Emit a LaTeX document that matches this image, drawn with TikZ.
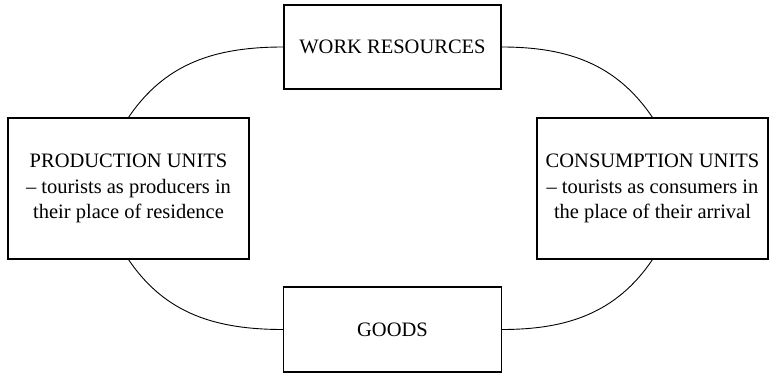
\documentclass[tikz,border=0pt]{standalone}
\usepackage{fontspec}
\setmainfont{Liberation Serif}
\usetikzlibrary{positioning}

\begin{document}
\begin{tikzpicture}[node distance=2cm,on grid,line width=0.9pt,
    unit/.style={draw,rectangle,align=center,inner sep=0pt,line width=1.1pt,
      font=\fontsize{20.5}{25.5}\selectfont}]
           \useasboundingbox (0pt,0pt) rectangle (769pt,-374pt);
           \node[unit,minimum width=217pt,minimum height=84pt] (work) at (392.5pt,-47pt) {WORK RESOURCES};
           \node[unit,minimum width=218pt,minimum height=85pt] (goods) [below=282.5pt of work] {GOODS};
           \node[unit,minimum width=241pt,minimum height=141pt] (prod) [below left=141.5pt and 264pt of work]
                {PRODUCTION UNITS\\ -- tourists as producers in\\ their place of residence};
           \node[unit,minimum width=231pt,minimum height=141pt] (cons) [below right=141.5pt and 260pt of work]
                {CONSUMPTION UNITS\\ -- tourists as consumers in\\ the place of their arrival};
           \draw (work.west) to[out=180,in=56] (prod.north);
           \draw (work.east) to[out=0,in=124] (cons.north);
           \draw (prod.south) to[out=-56,in=180] (goods.west);
           \draw (cons.south) to[out=-124,in=0] (goods.east);
        \end{tikzpicture}
\end{document}
